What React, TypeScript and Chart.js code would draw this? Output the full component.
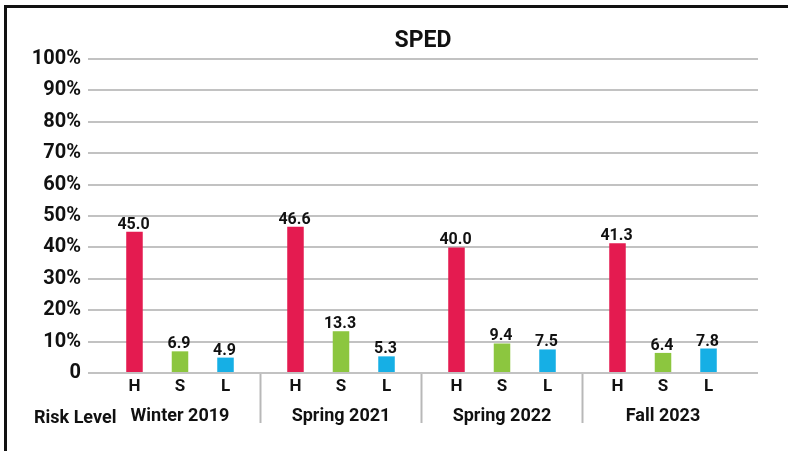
import React, { useEffect, useRef } from 'react';
import { Chart, registerables } from 'chart.js';

Chart.register(...registerables);

const chartTitle = 'SPED';
const axisCaption = 'Risk Level';
const groups = ['Winter 2019', 'Spring 2021', 'Spring 2022', 'Fall 2023'];
const riskLevels = ['H', 'S', 'L'];
const highRisk = [45.0, 46.6, 40.0, 41.3];
const someRisk = [6.9, 13.3, 9.4, 6.4];
const lowRisk = [4.9, 5.3, 7.5, 7.8];
const yTickLabels = ['0', '10%', '20%', '30%', '40%', '50%', '60%', '70%', '80%', '90%', '100%'];
const seriesColors = ['#E41B50', '#8CC63F', '#16AFE5'];

const FONT = "Roboto, 'Liberation Sans', sans-serif";

export default function App() {
  const ref = useRef<HTMLCanvasElement>(null);

  useEffect(() => {
    if (!ref.current) return;
    const series = [highRisk, someRisk, lowRisk];
    const datasets = series.map((vals, si) => ({
      label: riskLevels[si],
      data: vals.map((v, gi) => ({ x: gi, y: v })),
      backgroundColor: seriesColors[si],
      borderWidth: 0,
      categoryPercentage: 1.696,
      barPercentage: 0.363,
    }));

    const labelPlugin = {
      id: 'customLabels',
      afterDatasetsDraw(chart: any) {
        const { ctx, chartArea } = chart;
        ctx.save();
        ctx.fillStyle = '#111';
        ctx.textAlign = 'center';
        chart.data.datasets.forEach((_ds: any, di: number) => {
          const meta = chart.getDatasetMeta(di);
          meta.data.forEach((bar: any, i: number) => {
            const v = series[di][i];
            ctx.font = `bold 16px ${FONT}`;
            ctx.textBaseline = 'alphabetic';
            ctx.fillText(v.toFixed(1), bar.x - 1, bar.y - 3);
            ctx.font = `bold 17px ${FONT}`;
            ctx.textBaseline = 'middle';
            ctx.fillText(riskLevels[di], bar.x, chartArea.bottom + 14);
          });
        });
        ctx.font = `bold 23px ${FONT}`;
        ctx.textBaseline = 'alphabetic';
        ctx.fillText(chartTitle, (chartArea.left + chartArea.right) / 2, 47);
        ctx.textAlign = 'left';
        ctx.font = `bold 18px ${FONT}`;
        ctx.textBaseline = 'middle';
        ctx.fillText(axisCaption, 34, chartArea.bottom + 45);
        ctx.restore();
      },
    };

    const chart = new Chart(ref.current, {
      type: 'bar',
      data: { datasets: datasets as any },
      options: {
        animation: false,
        responsive: true,
        maintainAspectRatio: false,
        layout: { padding: { left: 8, top: 59, right: 30, bottom: 0 } },
        plugins: {
          legend: { display: false },
          tooltip: { enabled: false },
          title: { display: false },
        },
        scales: {
          x: {
            type: 'linear',
            offset: false,
            min: -0.5714,
            max: 3.59,
            afterBuildTicks: (scale: any) => {
              scale.ticks = [0, 0.5, 1, 1.5, 2, 2.5, 3].map((v) => ({ value: v }));
            },
            afterFit: (scale: any) => {
              scale.height = 78;
            },
            border: { display: false },
            grid: {
              display: true,
              offset: false,
              drawOnChartArea: false,
              drawTicks: true,
              tickLength: 50,
              tickWidth: 2,
              tickColor: (ctx: any) =>
                ctx.tick && !Number.isInteger(ctx.tick.value) ? '#b8b8b8' : 'rgba(0,0,0,0)',
            },
            ticks: {
              autoSkip: false,
              maxRotation: 0,
              minRotation: 0,
              padding: -17,
              color: '#111',
              font: { family: FONT, size: 18, weight: 'bold' },
              callback: (value: any) =>
                Number.isInteger(value) ? groups[value as number] : '',
            },
          },
          y: {
            min: 0,
            max: 100,
            afterFit: (scale: any) => {
              scale.width = 80;
            },
            border: { display: false },
            grid: {
              color: '#c2c2c2',
              lineWidth: 2,
              drawTicks: false,
            },
            ticks: {
              stepSize: 10,
              padding: 7,
              color: '#111',
              font: { family: FONT, size: 20, weight: 'bold' },
              callback: (_v: any, i: number) => yTickLabels[i],
            },
          },
        },
      },
      plugins: [labelPlugin],
    });
    return () => chart.destroy();
  }, []);

  return (
    <div
      style={{
        position: 'fixed',
        left: 0,
        top: 0,
        width: 788,
        height: 451,
        background: '#fff',
        overflow: 'hidden',
      }}
    >
      <div
        style={{
          position: 'absolute',
          left: 4,
          top: 5,
          width: 800,
          height: 460,
          borderLeft: '3px solid #111',
          borderTop: '3px solid #111',
        }}
      />
      <canvas ref={ref} style={{ position: 'absolute', left: 0, top: 0 }} />
    </div>
  );
}
